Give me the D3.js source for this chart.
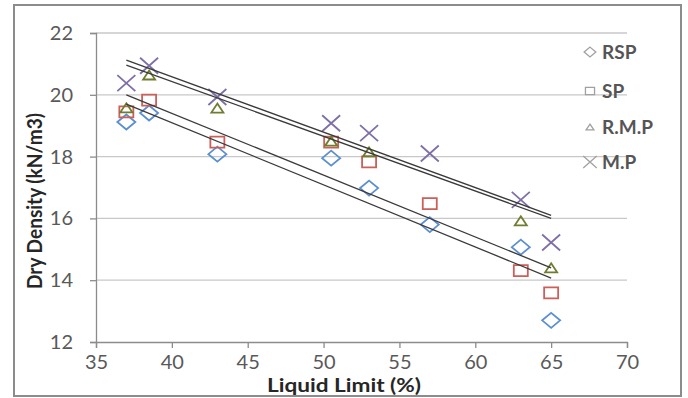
<!DOCTYPE html>
<html>
<head>
<meta charset="utf-8">
<script src="https://cdn.jsdelivr.net/npm/d3@7"></script>
<style>
  html, body { margin: 0; padding: 0; background: #fff; }
  svg { display: block; font-family: Lato, "Open Sans", sans-serif; }
</style>
</head>
<body>
<svg id="chart" width="688" height="398"></svg>
<script>
// Liquid limit (%) of each sample
const liquidLimit = [37, 38.5, 43, 50.5, 53, 57, 63, 65];
const liquidLimitRMP = [37, 38.5, 43, 50.5, 53, 63, 65];

// Dry density (kN/m3) for each soil series
const rsp = [19.12, 19.41, 18.08, 17.95, 16.98, 15.8, 15.07, 12.7];
const sp  = [19.45, 19.83, 18.47, 18.47, 17.83, 16.48, 14.31, 13.59];
const rmp = [19.58, 20.64, 19.57, 18.5, 18.15, 15.92, 14.4];
const mp  = [20.38, 20.94, 19.93, 19.08, 18.76, 18.1, 16.6, 15.22];

// Trend lines: density at the first and last liquid limit
const trendRange = [37, 65];
const trendMP  = [21.12, 16.1];
const trendRMP = [20.96, 16.0];
const trendSP  = [20.0, 14.4];
const trendRSP = [19.7, 14.07];

const xTicks = [35, 40, 45, 50, 55, 60, 65, 70];
const yTicks = [12, 14, 16, 18, 20, 22];
const seriesNames = ["RSP", "SP", "R.M.P", "M.P"];

const svg = d3.select("#chart");
const x = d3.scaleLinear().domain([35, 70]).range([96, 627]);
const y = d3.scaleLinear().domain([12, 22]).range([342, 33]);

// outer frame
svg.append("rect").attr("x", 14).attr("y", 5).attr("width", 667).attr("height", 391)
  .attr("fill", "#fff").attr("stroke", "#8c8c8c").attr("stroke-width", 2);

// horizontal gridlines
svg.append("g").selectAll("line").data(yTicks.filter(d => d > 12)).join("line")
  .attr("x1", x(35)).attr("x2", x(70))
  .attr("y1", d => y(d)).attr("y2", d => y(d))
  .attr("stroke", "#c8c8c8").attr("stroke-width", 1.3);

// axes
const xAxis = svg.append("g").attr("transform", `translate(0,${y(12)})`)
  .call(d3.axisBottom(x).tickValues(xTicks).tickSize(6).tickPadding(7));
const yAxis = svg.append("g").attr("transform", `translate(${x(35)},0)`)
  .call(d3.axisLeft(y).tickValues(yTicks).tickSize(6).tickPadding(17));
[xAxis, yAxis].forEach(g => {
  g.select(".domain").attr("stroke", "#8c8c8c").attr("stroke-width", 1.3);
  g.selectAll(".tick line").attr("stroke", "#8c8c8c").attr("stroke-width", 1.3);
  g.selectAll(".tick text").attr("fill", "#595959")
    .style("font-family", "Lato, sans-serif").style("font-size", "20px");
});

// axis titles
svg.append("text").attr("x", 344).attr("y", 392).attr("text-anchor", "middle")
  .attr("fill", "#262626").style("font-weight", "bold").style("font-size", "18px")
  .attr("textLength", 154).attr("lengthAdjust", "spacingAndGlyphs")
  .text("Liquid Limit (%)");
svg.append("text").attr("transform", "translate(42,201) rotate(-90)")
  .attr("text-anchor", "middle").attr("fill", "#262626")
  .style("font-weight", "bold").style("font-size", "20px")
  .attr("textLength", 176).attr("lengthAdjust", "spacingAndGlyphs")
  .text("Dry Density (kN/m3)");

// marker shapes (w x h boxes)
const shapes = {
  diamond: (w, h) => `M0,${-h/2}L${w/2},0L0,${h/2}L${-w/2},0Z`,
  square: (w, h) => `M${-w/2},${-h/2}H${w/2}V${h/2}H${-w/2}Z`,
  triangle: (w, h) => `M0,${-h/2}L${w/2},${h/2}H${-w/2}Z`,
  cross: (w, h) => `M${-w/2},${-h/2}L${w/2},${h/2}M${w/2},${-h/2}L${-w/2},${h/2}`
};

const series = [
  { name: "RSP", xs: liquidLimit, ys: rsp, shape: "diamond", w: 18, h: 15, color: "#5b8fd0" },
  { name: "SP", xs: liquidLimit, ys: sp, shape: "square", w: 14, h: 11, color: "#cc5f5a" },
  { name: "R.M.P", xs: liquidLimitRMP, ys: rmp, shape: "triangle", w: 12, h: 9, color: "#6e7d2e" },
  { name: "M.P", xs: liquidLimit, ys: mp, shape: "cross", w: 18, h: 16, color: "#7f6fa8" }
];

series.forEach(s => {
  svg.append("g").selectAll("path").data(s.ys).join("path")
    .attr("transform", (d, i) => `translate(${x(s.xs[i])},${y(d)})`)
    .attr("d", shapes[s.shape](s.w, s.h))
    .attr("fill", "none").attr("stroke", s.color).attr("stroke-width", 1.8);
});

// trend lines
const trends = [trendMP, trendRMP, trendSP, trendRSP];
svg.append("g").selectAll("line").data(trends).join("line")
  .attr("x1", x(trendRange[0])).attr("x2", x(trendRange[1]))
  .attr("y1", d => y(d[0])).attr("y2", d => y(d[1]))
  .attr("stroke", "#3a3a3a").attr("stroke-width", 1.3);

// legend
const legendY = [52, 91, 127, 162];
const leg = svg.append("g").selectAll("g").data(series).join("g")
  .attr("transform", (d, i) => `translate(590,${legendY[i]})`);
leg.append("path")
  .attr("d", d => {
    const k = d.shape === "cross" ? 0.75 : 0.65;
    return shapes[d.shape](d.w * k, d.h * k);
  })
  .attr("fill", "none").attr("stroke", "#a0a0a0").attr("stroke-width", 1.3);
leg.append("text").attr("x", 12).attr("dy", "0.36em")
  .attr("fill", "#555").style("font-weight", "bold").style("font-size", "19px")
  .text((d, i) => seriesNames[i]);
</script>
</body>
</html>
